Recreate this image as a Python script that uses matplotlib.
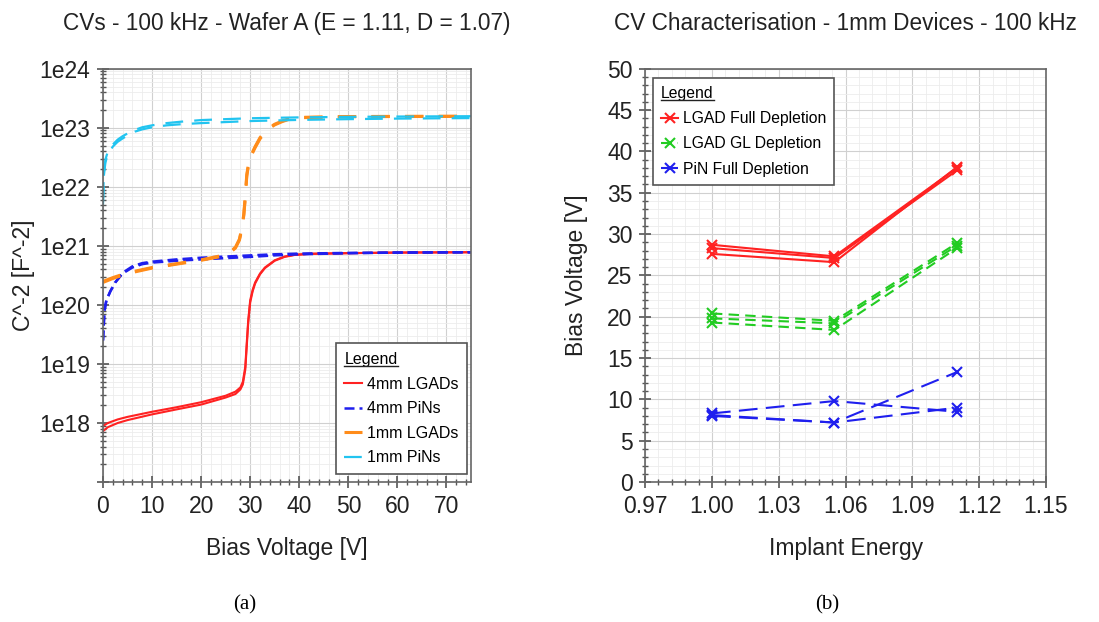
import numpy as np
import matplotlib
matplotlib.use("Agg")
import matplotlib.pyplot as plt
from matplotlib.ticker import (MultipleLocator, FixedLocator, LogLocator, FuncFormatter,
                               NullFormatter)
from matplotlib.lines import Line2D

plt.rcParams['font.family'] = ['Liberation Sans', 'DejaVu Sans']

# ---- panel (a): C^-2 vs bias voltage ----
red_v = [0, 1, 3, 5, 10, 15, 20, 25, 27, 28, 28.5, 29, 29.3, 29.6, 30, 30.5, 31, 32, 33, 35, 37, 39, 42, 50, 60, 75]
red_a = [7.3e17, 8.5e17, 1.0e18, 1.12e18, 1.4e18, 1.7e18, 2.05e18, 2.7e18, 3.1e18, 3.7e18, 4.5e18, 8e18, 2e19, 5e19,
         1.1e20, 1.7e20, 2.3e20, 3.3e20, 4.2e20, 5.6e20, 6.5e20, 7.0e20, 7.3e20, 7.5e20, 7.7e20, 7.8e20]
red_b = [8.9e17, 1.0e18, 1.15e18, 1.27e18, 1.55e18, 1.85e18, 2.25e18, 2.9e18, 3.4e18, 4.0e18, 5.0e18, 9e18, 2.3e19, 5.5e19,
         1.2e20, 1.8e20, 2.4e20, 3.4e20, 4.3e20, 5.7e20, 6.6e20, 7.05e20, 7.35e20, 7.55e20, 7.7e20, 7.8e20]

blue_v = [0, 0.3, 0.7, 1.5, 2.5, 4, 6, 8, 10, 15, 20, 25, 30, 35, 40, 50, 60, 75]
blue_a = [2.5e19, 8e19, 1.2e20, 1.7e20, 2.4e20, 3.4e20, 4.3e20, 4.9e20, 5.2e20, 5.6e20, 5.9e20, 6.2e20, 6.5e20,
          6.9e20, 7.2e20, 7.5e20, 7.7e20, 7.8e20]
blue_b = [2.5e19, 8e19, 1.2e20, 1.7e20, 2.4e20, 3.5e20, 4.5e20, 5.1e20, 5.4e20, 5.9e20, 6.3e20, 6.6e20, 6.9e20,
          7.2e20, 7.4e20, 7.6e20, 7.7e20, 7.8e20]

orange_v = [0, 2, 5, 10, 15, 20, 24, 26, 27, 27.8, 28.3, 28.7, 29.0, 29.3, 29.7, 30.3, 31, 32, 33, 34, 35, 36.5,
            38, 40, 50, 60, 75]
orange_a = [2.5e20, 2.9e20, 3.5e20, 4.3e20, 5.0e20, 5.8e20, 6.8e20, 8.0e20, 9.5e20, 1.3e21, 2.0e21, 3.5e21, 7e21,
            1.6e22, 2.6e22, 3.6e22, 4.8e22, 6.8e22, 8.6e22, 1.02e23, 1.15e23, 1.3e23, 1.42e23, 1.5e23, 1.55e23,
            1.56e23, 1.57e23]
orange_b = [2.4e20, 2.8e20, 3.4e20, 4.2e20, 4.9e20, 5.7e20, 6.6e20, 7.8e20, 9.2e20, 1.25e21, 1.9e21, 3.3e21, 6.5e21,
            1.5e22, 2.5e22, 3.5e22, 4.6e22, 6.5e22, 8.3e22, 9.9e22, 1.12e23, 1.27e23, 1.4e23, 1.48e23, 1.54e23,
            1.55e23, 1.56e23]

cyan_v = [0, 0.2, 0.5, 1, 2, 3, 4, 5, 6.5, 8, 10, 13, 16, 20, 25, 30, 40, 50, 60, 75]
cyan_a = [5e21, 1.6e22, 2.6e22, 3.6e22, 4.8e22, 5.8e22, 6.6e22, 7.4e22, 8.6e22, 9.4e22, 1.02e23, 1.1e23, 1.15e23,
          1.2e23, 1.25e23, 1.3e23, 1.36e23, 1.4e23, 1.43e23, 1.46e23]
cyan_b = [6e21, 1.8e22, 2.9e22, 4.0e22, 5.2e22, 6.3e22, 7.2e22, 8.0e22, 9.2e22, 1.02e23, 1.1e23, 1.2e23, 1.27e23,
          1.35e23, 1.4e23, 1.45e23, 1.5e23, 1.53e23, 1.55e23, 1.57e23]

# ---- panel (b): depletion voltage vs implant energy ----
energy = [1.00, 1.055, 1.11]
lgad_full = [[28.7, 27.3, 38.0], [28.3, 27.1, 37.7], [27.6, 26.6, 38.1]]
lgad_gl = [[20.4, 19.5, 28.9], [19.8, 19.2, 28.6], [19.3, 18.4, 28.3]]
pin_full = [[8.3, 9.8, 8.5], [8.0, 7.2, 13.3], [8.1, 7.2, 9.0]]
energy_ticks = [0.97, 1.00, 1.03, 1.06, 1.09, 1.12, 1.15]

RED = '#ff2222'
BLUE = '#1f1fee'
ORANGE = '#ff8c1a'
CYAN = '#22c4f0'
GREEN = '#22cc22'
TXT = '#222222'

fig = plt.figure(figsize=(10.99, 6.22), dpi=100)
ax1 = fig.add_axes([0.0937, 0.225, 0.3349, 0.6645])
ax2 = fig.add_axes([0.587, 0.225, 0.3648, 0.6645])


def style_axes(ax):
    for s in ax.spines.values():
        s.set_color('#666666')
        s.set_linewidth(1.2)
    ax.tick_params(which='both', direction='inout', colors='#555555', labelcolor=TXT, labelsize=16.5, pad=5)
    ax.tick_params(which='major', length=8, width=1.2)
    ax.tick_params(which='minor', length=5, width=1.0)
    ax.grid(which='major', color='#d0d0d0', lw=0.8)
    ax.grid(which='minor', color='#ececec', lw=0.6)
    ax.set_axisbelow(True)


# panel (a)
ax1.plot(red_v, red_a, color=RED, lw=1.5, label='4mm LGADs')
ax1.plot(red_v, red_b, color=RED, lw=1.5)
ax1.plot(blue_v, blue_a, color=BLUE, lw=1.8, dashes=(4, 2), label='4mm PiNs')
ax1.plot(blue_v, blue_b, color=BLUE, lw=1.8, dashes=(4, 2))
ax1.plot(orange_v, orange_a, color=ORANGE, lw=2.2, dashes=(6, 5), label='1mm LGADs')
ax1.plot(orange_v, orange_b, color=ORANGE, lw=2.2, dashes=(6, 5))
ax1.plot(cyan_v, cyan_a, color=CYAN, lw=1.6, dashes=(8, 5), label='1mm PiNs')
ax1.plot(cyan_v, cyan_b, color=CYAN, lw=1.6, dashes=(8, 5))

ax1.set_yscale('log')
ax1.set_xlim(0, 75)
ax1.set_ylim(1e17, 1e24)
ax1.xaxis.set_major_locator(MultipleLocator(10))
ax1.xaxis.set_minor_locator(MultipleLocator(2))
ax1.yaxis.set_major_locator(LogLocator(base=10, numticks=20))
ax1.yaxis.set_minor_locator(LogLocator(base=10, subs=np.arange(2, 10), numticks=20))
ax1.yaxis.set_minor_formatter(NullFormatter())
ax1.yaxis.set_major_formatter(FuncFormatter(
    lambda v, p: '' if v < 5e17 else '1e%d' % int(round(np.log10(v)))))
style_axes(ax1)
ax1.set_xlabel('Bias Voltage [V]', fontsize=16.5, color=TXT, labelpad=14)
ax1.set_ylabel('C^-2 [F^-2]', fontsize=16.5, color=TXT, labelpad=3)
ax1.set_title('CVs - 100 kHz - Wafer A (E = 1.11, D = 1.07)', fontsize=16.3, color=TXT, pad=28)

leg1 = ax1.legend(loc='lower right', title='Legend', fontsize=11.5, title_fontsize=11.5,
                  frameon=True, fancybox=False, edgecolor='#555555', framealpha=1,
                  handlelength=1.1, handletextpad=0.3, borderpad=0.55, labelspacing=0.6,
                  alignment='left', bbox_to_anchor=(0.989, 0.019), borderaxespad=0)
leg1.get_frame().set_linewidth(1.2)

# panel (b)
for i, vals in enumerate(lgad_full):
    ax2.plot(energy, vals, color=RED, lw=1.5, marker='x', ms=7, mew=1.5,
             label='LGAD Full Depletion' if i == 0 else None)
for i, vals in enumerate(lgad_gl):
    ax2.plot(energy, vals, color=GREEN, lw=1.5, dashes=(5, 3), marker='x', ms=7, mew=1.5,
             label='LGAD GL Depletion' if i == 0 else None)
for i, vals in enumerate(pin_full):
    ax2.plot(energy, vals, color=BLUE, lw=1.5, dashes=(9, 4), marker='x', ms=7, mew=1.5,
             label='PiN Full Depletion' if i == 0 else None)

ax2.set_xlim(0.97, 1.15)
ax2.set_ylim(0, 50)
ax2.xaxis.set_major_locator(FixedLocator(energy_ticks))
ax2.xaxis.set_minor_locator(FixedLocator(np.linspace(0.97, 1.15, 31)))
ax2.yaxis.set_major_locator(MultipleLocator(5))
ax2.yaxis.set_minor_locator(MultipleLocator(1))
ax2.xaxis.set_major_formatter(FuncFormatter(lambda v, p: '%.2f' % v))
style_axes(ax2)
ax2.set_xlabel('Implant Energy', fontsize=16.5, color=TXT, labelpad=14)
ax2.set_ylabel('Bias Voltage [V]', fontsize=16.5, color=TXT, labelpad=14)
ax2.set_title('CV Characterisation - 1mm Devices - 100 kHz', fontsize=16.3, color=TXT, pad=28)

leg2 = ax2.legend(loc='upper left', title='Legend', fontsize=11.3, title_fontsize=11.3,
                  frameon=True, fancybox=False, edgecolor='#555555', framealpha=1,
                  handlelength=1.1, handletextpad=0.3, borderpad=0.5, labelspacing=0.65,
                  alignment='left', bbox_to_anchor=(0.02, 0.977), borderaxespad=0)
leg2.get_frame().set_linewidth(1.2)

fig.text(0.223, 0.027, '(a)', fontsize=15, family='Liberation Serif', ha='center', va='center')
fig.text(0.753, 0.027, '(b)', fontsize=15, family='Liberation Serif', ha='center', va='center')

# underline the legend titles
fig.canvas.draw()
inv = fig.transFigure.inverted()
for leg in (leg1, leg2):
    bb = leg.get_title().get_window_extent()
    (x0, y0), (x1, _) = inv.transform([[bb.x0, bb.y0], [bb.x1, bb.y1]])
    fig.add_artist(Line2D([x0, x1], [y0 + 0.002, y0 + 0.002], transform=fig.transFigure,
                          color=TXT, lw=1.0))

fig.savefig('out.png', dpi=100)
